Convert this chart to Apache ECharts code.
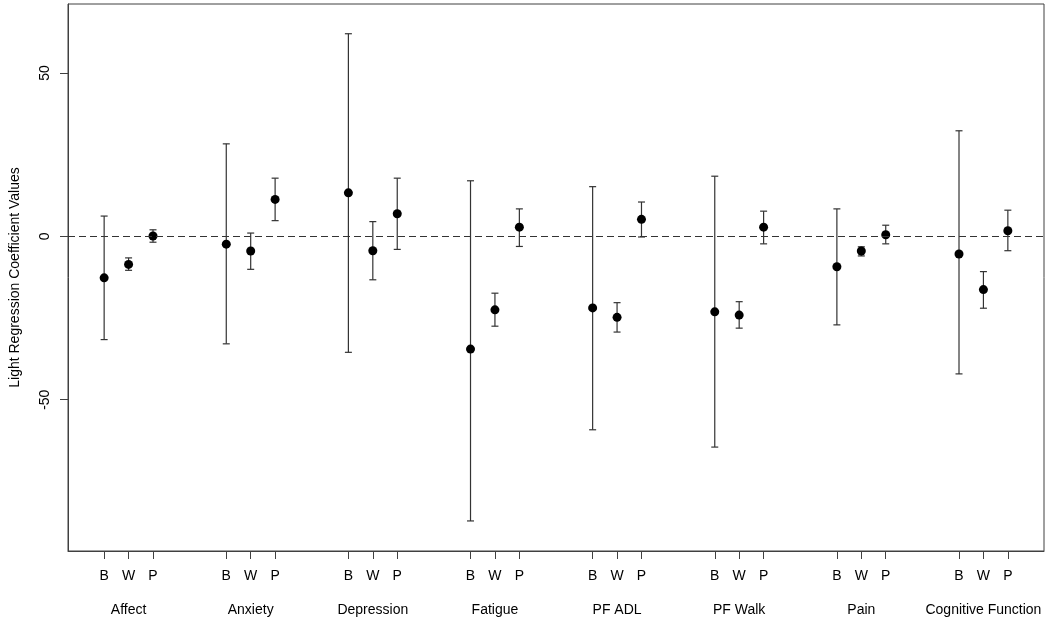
<!DOCTYPE html>
<html>
<head>
<meta charset="utf-8">
<script src="https://cdn.jsdelivr.net/npm/echarts@6/dist/echarts.min.js"></script>
<style>
html,body{margin:0;padding:0;background:#fff;}
#chart{width:1050px;height:621px;}
</style>
</head>
<body>
<div id="chart"></div>
<script>
// Outcome groups and the three estimate types within each
const groups = ['Affect', 'Anxiety', 'Depression', 'Fatigue', 'PF ADL', 'PF Walk', 'Pain', 'Cognitive Function'];
const types = ['B', 'W', 'P'];
// x positions (R-style: 1,2,3, 6,7,8, ...)
const positions = [1,2,3, 6,7,8, 11,12,13, 16,17,18, 21,22,23, 26,27,28, 31,32,33, 36,37,38];
const groupCenters = [2, 7, 12, 17, 22, 27, 32, 37];
// point estimates (B, W, P per group)
const estimates = [-12.7, -8.6, 0.1,  -2.4, -4.5, 11.3,  13.3, -4.4, 6.9,  -34.5, -22.5, 2.8,
                   -21.9, -24.8, 5.2,  -23.1, -24.1, 2.8,  -9.3, -4.5, 0.5,  -5.4, -16.3, 1.7];
// lower CI bounds
const lowers = [-31.6, -10.4, -1.8,  -32.9, -10.1, 4.8,  -35.5, -13.3, -4.0,  -87.1, -27.5, -3.1,
                -59.2, -29.3, -0.2,  -64.5, -28.1, -2.3,  -27.1, -6.0, -2.3,  -42.1, -22.0, -4.4];
// upper CI bounds
const uppers = [6.2, -6.6, 2.0,  28.3, 1.0, 17.8,  62.0, 4.5, 17.8,  17.0, -17.4, 8.4,
                15.2, -20.3, 10.5,  18.4, -20.0, 7.7,  8.4, -3.2, 3.4,  32.3, -10.8, 8.0];
const yTicks = [-50, 0, 50];

const pointData = positions.map((x, i) => [x, estimates[i]]);
const barData = positions.map((x, i) => [x, lowers[i], uppers[i]]);
const typeLabel = {};
positions.forEach((x, i) => { typeLabel[x] = types[i % 3]; });
const groupLabel = {};
groupCenters.forEach((x, i) => { groupLabel[x] = groups[i]; });

const FONT = 'Liberation Sans, Arial, Helvetica, sans-serif';
const AX = '#404040';

const chart = echarts.init(document.getElementById('chart'));
chart.setOption({
  animation: false,
  backgroundColor: '#fff',
  grid: { left: 67, right: 6, top: 4, bottom: 70, show: true, borderColor: AX, borderWidth: 1, backgroundColor: 'transparent' },
  xAxis: [{
    type: 'value', min: -0.48, max: 39.48,
    axisLine: { show: true, onZero: false, lineStyle: { color: AX } },
    splitLine: { show: false },
    axisTick: { show: true, length: 8, lineStyle: { color: AX }, customValues: positions },
    axisLabel: { show: true, customValues: positions, margin: 18, fontSize: 14, fontFamily: FONT, color: '#000',
      formatter: v => typeLabel[Math.round(v)] || '' }
  }, {
    type: 'value', min: -0.48, max: 39.48, position: 'bottom',
    axisLine: { show: false }, splitLine: { show: false },
    axisTick: { show: false },
    axisLabel: { show: true, customValues: groupCenters, margin: 52, fontSize: 14, fontFamily: FONT, color: '#000',
      formatter: v => groupLabel[Math.round(v)] || '' }
  }],
  yAxis: {
    type: 'value', min: -96.3, max: 71.1,
    name: 'Light Regression Coefficient Values', nameLocation: 'middle', nameRotate: 90, nameGap: 46,
    nameTextStyle: { fontSize: 14, fontFamily: FONT, color: '#000' },
    axisLine: { show: true, onZero: false, lineStyle: { color: AX } },
    splitLine: { show: false },
    axisTick: { show: true, length: 8, lineStyle: { color: AX }, customValues: yTicks },
    axisLabel: { show: true, customValues: yTicks, rotate: 90, margin: 16, fontSize: 14, fontFamily: FONT, color: '#000' }
  },
  series: [{
    type: 'custom',
    xAxisIndex: 0,
    data: barData,
    renderItem: function (params, api) {
      const x = api.value(0);
      const lo = api.coord([x, api.value(1)]);
      const hi = api.coord([x, api.value(2)]);
      const w = 3.5;
      const style = { stroke: '#333', lineWidth: 1.2 };
      return {
        type: 'group',
        children: [
          { type: 'line', shape: { x1: lo[0], y1: lo[1], x2: hi[0], y2: hi[1] }, style: style },
          { type: 'line', shape: { x1: lo[0] - w, y1: lo[1], x2: lo[0] + w, y2: lo[1] }, style: style },
          { type: 'line', shape: { x1: hi[0] - w, y1: hi[1], x2: hi[0] + w, y2: hi[1] }, style: style }
        ]
      };
    },
    z: 2
  }, {
    type: 'scatter',
    xAxisIndex: 0,
    data: pointData,
    symbol: 'circle',
    symbolSize: 9,
    itemStyle: { color: '#000', opacity: 1 },
    z: 3,
    markLine: {
      silent: true, symbol: 'none', label: { show: false },
      lineStyle: { color: '#333', type: [7, 4], width: 1.2 },
      data: [{ yAxis: 0 }]
    }
  }]
});
</script>
</body>
</html>
